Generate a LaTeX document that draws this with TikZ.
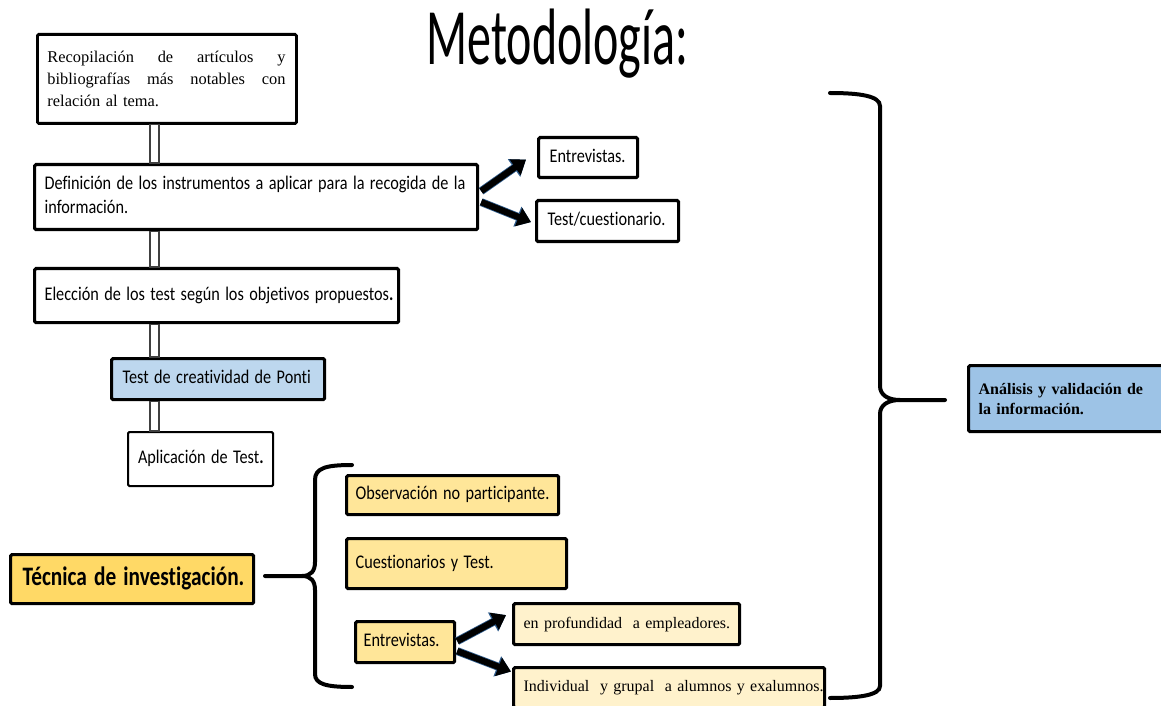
\documentclass[tikz,border=0pt]{standalone}
\usepackage{fontspec}
\setmainfont{Carlito}[Ligatures=NoCommon]
\newfontfamily\tnr{Liberation Serif}
\usepackage{graphicx}
\usetikzlibrary{arrows.meta,calc}

\newcommand{\pxu}{0.75pt}
\newcommand{\sqz}[2][0.84]{\scalebox{#1}[1]{\begin{tabular}{@{}l@{}}#2\end{tabular}}}
\newcommand{\just}[1]{{\spaceskip=0pt\xspaceskip=0pt\makebox[178.5pt][s]{#1}}}

\definecolor{azulclaro}{RGB}{189,215,238}
\definecolor{azulmedio}{RGB}{157,195,230}
\definecolor{oro}{RGB}{255,217,102}
\definecolor{amarillo}{RGB}{255,230,153}
\definecolor{crema}{RGB}{255,242,204}
\definecolor{brillo}{RGB}{46,92,140}

\tikzset{every picture/.style={line width=0.75pt}}
\tikzset{
  caja/.style n args={3}{draw, line width=2.4pt, rounded corners=1pt, anchor=north west,
    align=left, inner ysep=0pt, inner xsep=#3*\pxu, minimum width=#1*\pxu,
    text width=(#1-2*#3)*\pxu, minimum height=#2*\pxu, font=\fontsize{14.5}{18}\selectfont},
  enlace/.style={draw=black!75, fill=white, line width=0.8pt},
  flecha/.style={line width=4.8pt, -{Triangle[length=10pt,width=14pt]},
    preaction={draw=brillo, line width=6pt, -{Triangle[length=11pt,width=15.5pt]}}},
  llave/.style={line width=3pt, line cap=round},
}

\begin{document}
\begin{tikzpicture}[x=0.75pt,y=0.75pt,yscale=-1,xscale=1]
\useasboundingbox (0,0) rectangle (1161,706);
\clip (0,0) rectangle (1161,706);

% title
\node[anchor=base, font=\fontsize{60}{60}\selectfont] (titulo) at (557.5,65) {\scalebox{0.6}[1]{Metodología:}};

% left column
\node[caja={259}{89}{10}, font=\tnr\fontsize{12.3}{16.5}\selectfont, line width=2.2pt] (recop) at (36,33)
  {\just{Recopilación de artículos y}\\\just{bibliografías más notables con}\\relación al tema.};
\node[caja={443}{65}{10}] (defin) at (33,163)
  {\sqz{Definición de los instrumentos a aplicar para la recogida de la\\información.}};
\node[caja={364}{54}{10}] (elecc) at (33,267)
  {\sqz{Elección de los test según los objetivos propuestos\textbf{.}}};
\node[caja={213}{41}{11}, fill=azulclaro] (ponti) at (110,357)
  {\sqz{Test de creatividad de Ponti}};
\node[caja={145}{54}{10}, line width=1.6pt] (aplic) at (127,431)
  {\sqz{Aplicación de Test\textbf{.}}};

% instruments
\node[caja={99}{40}{11}] (entrev1) at (537,136) {\sqz{Entrevistas.}};
\node[caja={142}{41}{11}] (testc) at (535,199) {\sqz{Test/cuestionario.}};

% bars between steps
\coordinate (barL) at (150,0);
\coordinate (barR) at (159,0);
\draw[enlace] (recop.south -| barL) rectangle (defin.north -| barR);
\draw[enlace] (defin.south -| barL) rectangle (elecc.north -| barR);
\draw[enlace] (elecc.south -| barL) rectangle (ponti.north -| barR);
\draw[enlace] (ponti.south -| barL) rectangle (aplic.north -| barR);

\draw[flecha] ($(defin.east)+(2,-6)$) -- ($(entrev1.west)+(-11,2)$);
\draw[flecha] ($(defin.east)+(2,5)$) -- ($(testc.west)+(-4,1)$);

% research technique
\node[caja={243}{49}{12}, fill=oro, font=\bfseries\fontsize{20}{24}\selectfont] (tecn) at (9,553)
  {\sqz[0.8]{Técnica de investigación.}};
\node[caja={212}{39}{9}, fill=amarillo] (obs) at (345,474) {\sqz{Observación no participante.}};
\node[caja={220}{50}{9}, fill=amarillo] (cuest) at (345,537) {\sqz{Cuestionarios y Test.}};
\node[caja={99}{41}{8}, fill=amarillo] (entrev2) at (354,620) {\sqz{Entrevistas.}};
\node[caja={226}{41}{10}, fill=crema, font=\tnr\fontsize{12}{14}\selectfont] (prof) at (512,602)
  {\mbox{en profundidad\ \ a empleadores.}};
\node[caja={311}{40}{10}, fill=crema, font=\tnr\fontsize{12}{14}\selectfont] (indiv) at (512,666)
  {\mbox{Individual\ \ y grupal\ \ a alumnos y exalumnos.}};

\draw[flecha] ($(entrev2.east)+(1,-1)$) -- ($(prof.west)+(-6,-9)$);
\draw[flecha] ($(entrev2.east)+(1,9)$) -- ($(indiv.west)+(-1,-16)$);

% left brace
\draw[llave] (352,465) .. controls (326,465) and (315,468) .. (315,480) -- (315,562)
  .. controls (315,571) and (311,576) .. (302,576) -- (265,576);
\draw[llave] (302,576) .. controls (311,576) and (315,581) .. (315,590) -- (315,674)
  .. controls (315,684) and (326,687) .. (352,687);

% right brace
\draw[llave] (830,93) .. controls (860,93) and (880,96) .. (880,106) -- (880,386)
  .. controls (880,395) and (888,400) .. (900,400) -- (945,400);
\draw[llave] (900,400) .. controls (888,400) and (880,405) .. (880,414) -- (880,686)
  .. controls (880,695) and (860,698) .. (830,698);

\node[caja={205}{66}{10}, fill=azulmedio, font=\tnr\bfseries\fontsize{12}{15}\selectfont] (anal) at (967,364)
  {Análisis y validación de\\la información.};

\end{tikzpicture}
\end{document}
